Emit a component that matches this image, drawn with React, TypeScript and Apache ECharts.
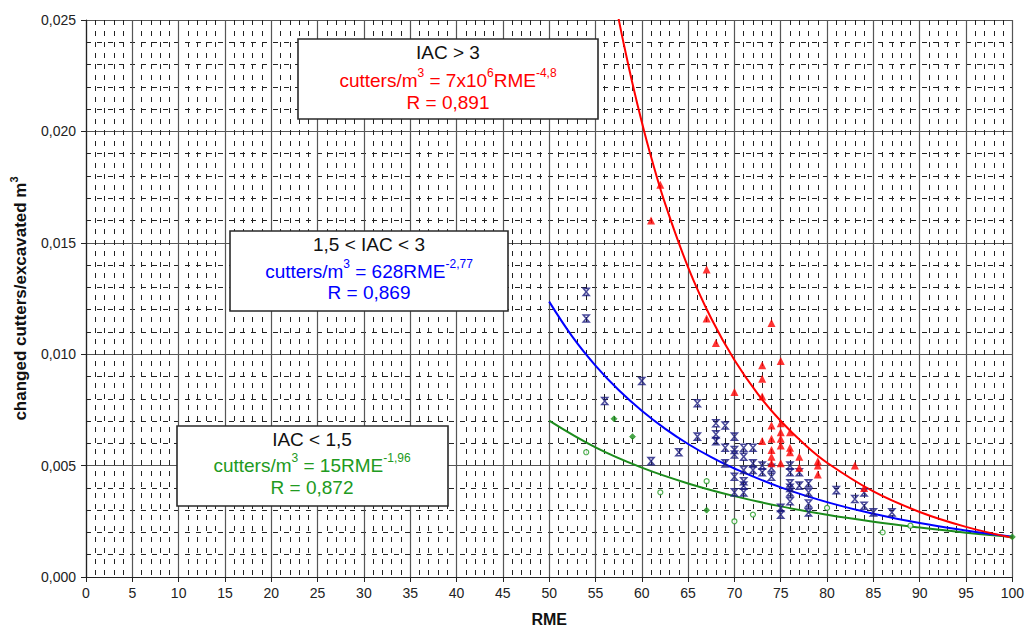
import React, { useEffect, useRef } from 'react';
import * as echarts from 'echarts';

// ---- data ----
const redPoints: [number, number][] = [
  [61, 0.016], [62, 0.0176], [67, 0.0138], [67, 0.0116], [68, 0.0105], [70, 0.0083],
  [73, 0.0095], [73, 0.0089], [73, 0.0081], [73, 0.0061],
  [74, 0.0114], [74, 0.0068], [74, 0.0062], [74, 0.0057], [74, 0.0054], [74, 0.0051],
  [75, 0.0097], [75, 0.0069], [75, 0.0065], [75, 0.0062], [75, 0.0059], [75, 0.0051],
  [76, 0.0065], [76, 0.0058], [76, 0.0056], [77, 0.0054], [77, 0.0049],
  [79, 0.0052], [79, 0.005], [79, 0.0046], [83, 0.005], [84, 0.004],
];

const bluePoints: [number, number][] = [
  [54, 0.0128], [54, 0.0116], [56, 0.0079], [60, 0.0088], [61, 0.0052], [64, 0.0056],
  [66, 0.0078], [66, 0.0063], [68, 0.0069], [68, 0.0064], [68, 0.0061],
  [69, 0.0068], [69, 0.0058], [69, 0.0051],
  [70, 0.0063], [70, 0.0057], [70, 0.0055], [70, 0.0045], [70, 0.0038],
  [71, 0.0058], [71, 0.0054], [71, 0.0048], [71, 0.0043], [71, 0.0041], [71, 0.0038],
  [72, 0.0058], [72, 0.0051], [72, 0.0048], [73, 0.005], [73, 0.0047],
  [74, 0.0049], [74, 0.0045], [75, 0.0031], [75, 0.0028],
  [76, 0.005], [76, 0.0047], [76, 0.0042], [76, 0.004], [76, 0.0038], [76, 0.0034],
  [77, 0.0047], [77, 0.0041], [78, 0.0042], [78, 0.0038], [78, 0.0033], [78, 0.0029],
  [81, 0.0039], [83, 0.0035], [84, 0.0038], [84, 0.0032], [85, 0.0029], [87, 0.0029],
];

const greenHollow: [number, number][] = [
  [54, 0.0056], [62, 0.0038], [67, 0.0043], [70, 0.0025], [72, 0.0028],
  [80, 0.0031], [86, 0.002], [89, 0.0023],
];
const greenFilled: [number, number][] = [
  [57, 0.0071], [59, 0.0063], [67, 0.003], [100, 0.0018],
];

// trend curves
const redCurve: [number, number][] = [
  [57.5, 0.02505], [58, 0.02403], [59, 0.02214], [60, 0.02042], [61, 0.01886], [62.5, 0.01678],
  [65, 0.0139], [67.5, 0.0116], [70, 0.00974], [72.5, 0.00823], [75, 0.007], [77.5, 0.00598],
  [80, 0.00513], [85, 0.00384], [90, 0.00292], [95, 0.00225], [100, 0.00176],
];
const blueCurve: [number, number][] = [
  [50, 0.01236], [52.5, 0.01079], [55, 0.00949], [57.5, 0.00839], [60, 0.00746], [62.5, 0.00666],
  [65, 0.00597], [67.5, 0.00538], [70, 0.00487], [75, 0.00402], [80, 0.00336], [85, 0.00284],
  [90, 0.00242], [95, 0.00209], [100, 0.00181],
];
const greenCurve: [number, number][] = [
  [50, 0.00702], [55, 0.00582], [60, 0.00491], [65, 0.0042], [70, 0.00363], [75, 0.00317],
  [80, 0.00279], [85, 0.00248], [90, 0.00222], [95, 0.00199], [100, 0.0018],
];

const boxTitles = ['IAC > 3', '1,5 < IAC < 3', 'IAC < 1,5'];
const boxEquations = [
  '{m|cutters/m}{s|3}{m| = 7x10}{s|6}{m|RME}{s|-4,8}',
  '{m|cutters/m}{s|3}{m| = 628RME}{s|-2,77}',
  '{m|cutters/m}{s|3}{m| = 15RME}{s|-1,96}',
];
const boxR = ['R = 0,891', 'R = 0,869', 'R = 0,872'];

const xAxisName = 'RME';
const yAxisName = '{n|changed cutters/excavated m}{s|3}';

const FONT = 'Liberation Sans, Arial, sans-serif';
const RED = '#ff0000';
const BLUE = '#0000ff';
const NAVY = '#1a1a80';
const GREEN = '#1c8c1c';
const GREEN_TXT = '#219a21';

function makeBox(
  left: number, top: number, w: number, h: number, cx: number, ys: number[],
  title: string, eq: string, r: string, color: string,
) {
  const fs = 19;
  const rich = {
    m: { fontSize: fs, fontFamily: FONT, fill: color, color, lineHeight: 23, verticalAlign: 'bottom' },
    s: { fontSize: 12, fontFamily: FONT, fill: color, color, lineHeight: 13, verticalAlign: 'top' },
  };
  return {
    type: 'group',
    children: [
      {
        type: 'rect',
        shape: { x: left, y: top, width: w, height: h },
        style: { fill: '#ffffff', stroke: '#2a2a2a', lineWidth: 1.6 },
        z: 10,
      },
      {
        type: 'text', x: cx, y: ys[0], z: 11,
        style: { text: title, fill: '#111', font: `${fs}px ${FONT}`, align: 'center', verticalAlign: 'middle' },
      },
      {
        type: 'text', x: cx, y: ys[1], z: 11,
        style: { text: eq, rich, fill: color, font: `${fs}px ${FONT}`, align: 'center', verticalAlign: 'middle' },
      },
      {
        type: 'text', x: cx, y: ys[2], z: 11,
        style: { text: r, fill: color, font: `${fs}px ${FONT}`, align: 'center', verticalAlign: 'middle' },
      },
    ],
  };
}

export default function App() {
  const ref = useRef<HTMLDivElement>(null);
  useEffect(() => {
    if (!ref.current) return;
    const chart = echarts.init(ref.current, undefined, { renderer: 'svg' });
    const fmtY = (v: number) => v.toFixed(3).replace('.', ',');
    chart.setOption({
      animation: false,
      backgroundColor: '#ffffff',
      grid: { left: 86, right: 12, top: 20, bottom: 54, containLabel: false },
      xAxis: {
        type: 'value', min: 0, max: 100, interval: 5,
        name: xAxisName, nameLocation: 'middle', nameGap: 34,
        nameTextStyle: { fontFamily: FONT, fontWeight: 'bold', fontSize: 16, color: '#111' },
        axisLine: { show: true, onZero: false, lineStyle: { color: '#222', width: 1.2 } },
        axisTick: { show: true, inside: false, length: 5, lineStyle: { color: '#222' } },
        axisLabel: { fontFamily: FONT, fontSize: 14, color: '#222', margin: 9 },
        splitLine: { show: true, lineStyle: { color: '#555', width: 1.2 } },
        minorTick: { show: false, splitNumber: 5 },
        minorSplitLine: { show: true, lineStyle: { color: '#222', width: 1, type: [5, 6] } },
      },
      yAxis: {
        type: 'value', min: 0, max: 0.025, interval: 0.005,
        name: yAxisName, nameLocation: 'middle', nameGap: 57, nameRotate: 90,
        nameTextStyle: {
          fontFamily: FONT, fontWeight: 'bold', fontSize: 17, color: '#111',
          rich: {
            n: { fontFamily: FONT, fontWeight: 'bold', fontSize: 17, color: '#111', lineHeight: 21, verticalAlign: 'bottom' },
            s: { fontFamily: FONT, fontWeight: 'bold', fontSize: 11, color: '#111', lineHeight: 12, verticalAlign: 'top' },
          },
        },
        axisLine: { show: true, lineStyle: { color: '#222', width: 1.2 } },
        axisTick: { show: true, inside: false, length: 5, lineStyle: { color: '#222' } },
        axisLabel: { fontFamily: FONT, fontSize: 14, color: '#222', margin: 10, formatter: fmtY },
        splitLine: { show: true, lineStyle: { color: '#555', width: 1.2 } },
        minorTick: { show: false, splitNumber: 5 },
        minorSplitLine: { show: true, lineStyle: { color: '#222', width: 1, type: [5, 6] } },
      },
      series: [
        {
          type: 'line', data: greenCurve, smooth: 0.4, showSymbol: false,
          lineStyle: { color: GREEN, width: 2 }, z: 3, silent: true,
        },
        {
          type: 'line', data: blueCurve, smooth: 0.4, showSymbol: false,
          lineStyle: { color: BLUE, width: 2 }, z: 3, silent: true,
        },
        {
          type: 'line', data: redCurve, smooth: 0.4, showSymbol: false,
          lineStyle: { color: RED, width: 2 }, z: 3, silent: true,
        },
        {
          type: 'scatter', data: greenHollow, symbol: 'circle', symbolSize: 5,
          itemStyle: { color: '#ffffff', borderColor: GREEN_TXT, borderWidth: 1.2 }, z: 4,
        },
        {
          type: 'scatter', data: greenFilled, symbol: 'diamond', symbolSize: 6,
          itemStyle: { color: GREEN, borderColor: GREEN_TXT, borderWidth: 0.8 }, z: 4,
        },
        {
          type: 'scatter', data: bluePoints, symbol: 'path://M0,0L10,0L0,10L10,10Z', symbolSize: [6, 7],
          itemStyle: { color: 'rgba(0,0,0,0)', borderColor: NAVY, borderWidth: 1.5 }, z: 5,
        },
        {
          type: 'scatter', data: redPoints, symbol: 'triangle', symbolSize: 8,
          itemStyle: { color: RED }, z: 6,
        },
      ],
      graphic: [
        makeBox(298, 39, 300, 80, 448, [52, 78, 102], boxTitles[0], boxEquations[0], boxR[0], RED),
        makeBox(230, 231, 278, 80, 369, [244, 269, 292], boxTitles[1], boxEquations[1], boxR[1], BLUE),
        makeBox(177, 426, 271, 80, 312, [439, 463, 487], boxTitles[2], boxEquations[2], boxR[2], GREEN_TXT),
      ],
    });
    return () => chart.dispose();
  }, []);
  return (
    <div
      ref={ref}
      style={{ position: 'absolute', left: 0, top: 0, width: 1027, height: 632, background: '#fff' }}
    />
  );
}
